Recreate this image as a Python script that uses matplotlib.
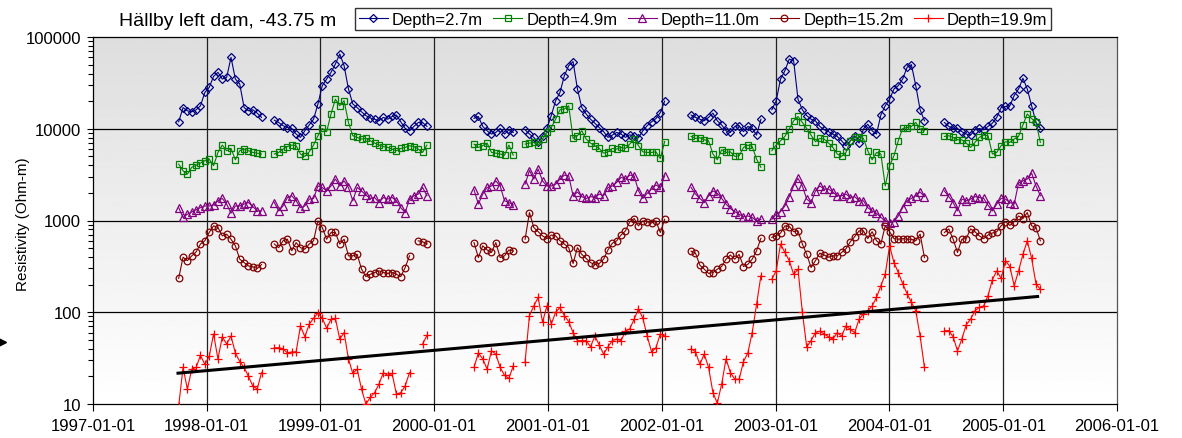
import numpy as np
import pandas as pd
import matplotlib
matplotlib.use("Agg")
import matplotlib.pyplot as plt
import matplotlib.dates as mdates
from matplotlib.lines import Line2D
from matplotlib.ticker import FixedLocator, FuncFormatter, LogLocator, NullFormatter

plt.rcParams["font.family"] = ["Liberation Sans", "DejaVu Sans"]

nan = np.nan

# measurement campaigns: first date of each run, readings every 14 days
SEG_STARTS = ["1997-10-03", "1998-08-06", "2000-05-08", "2000-10-19",
              "2002-04-05", "2002-12-20", "2004-06-26"]
STEP = "14D"

RES_2_7 = [
    [11900, 17000, 15700, 15300, 16100, 17800, 24900, 28200, 37200, 41200,
     34800, 36300, 60000, 34800, 30700, 17000, 15700, 16100, 14800, 13300],
    [12400, 11700, 10800, 10300, 10100, 8750, 8050, 9500, 11000, 12700,
     18600, 29500, 34800, 41200, 50700, 65300, 48700, 27100, 18600, 17000,
     15300, 13900, 13100, 12700, 12200, 13300, 12700, 13600, 14100, 11900,
     10100, 9500, 10600, 11700, 11700, 10600],
    [13000, 13600, 10600, 9500, 8750, 9120, 10080, 8750, 9750, 9120],
    [9750, 8750, 8050, 7100, 8390, 10080, 13900, 20200, 24900, 37900,
     48700, 53900, 27100, 17000, 14500, 12700, 11500, 10300, 9300, 8050,
     8520, 9120, 8750, 8050, 8600, 8250, 7990, 9500, 10800, 11900,
     12900, 15000, 20000],
    [14100, 13300, 12700, 12200, 13300, 14800, 12200, 11000, 9500, 9120,
     10600, 10800, 9300, 10600, 10100, 8520, 12700],
    [16100, 20200, 34800, 42900, 57500, 55200, 21000, 16100, 13900, 12700,
     12200, 10600, 9750, 9300, 8750, 8250, 7400, 6530, 7400, 8390,
     6980, 9920, 11200, 9500, 8750, 14100, 17800, 21000, 27100, 29500,
     34800, 46600, 50000, 29500, 16100, 12200],
    [11700, 10600, 10080, 10080, 9300, 8750, 8520, 9750, 10080, 9750,
     10600, 11500, 13300, 17000, 17500, 17800, 23000, 27100, 35500, 27100,
     17800, 11700, 10080],
]

RES_4_9 = [
    [4120, 3480, 3200, 3800, 4000, 4230, 4480, 4670, 3960, 5500,
     6640, 5760, 6100, 4590, 5760, 6000, 5760, 5520, 5420, 5300],
    [5300, 5520, 6000, 6400, 6640, 6530, 5300, 5000, 5600, 6640,
     8390, 10080, 9300, 14500, 21000, 17800, 20200, 11700, 8390, 8050,
     7720, 7850, 7400, 6980, 6640, 6400, 6260, 6000, 5760, 6100,
     6260, 6530, 6400, 6000, 5520, 6640],
    [6800, 6260, 6530, 6980, 5520, 5420, 5300, 5150, 6640, 5150],
    [6800, 6980, 7100, 6640, 7720, 9120, 10300, 12700, 16100, 16400,
     17800, 7850, 8390, 9500, 7720, 6980, 6530, 6100, 5420, 5600,
     6100, 6000, 6260, 6100, 6800, 7720, 6530, 5600, 5520, 5520,
     5600, 4740, 7260],
    [8250, 7850, 7990, 7580, 7400, 5300, 4590, 5900, 5520, 5600,
     5000, 5070, 6260, 6640, 6400, 4670, 3800],
    [5760, 6640, 7400, 8250, 9920, 12200, 13600, 11700, 10080, 8520,
     7220, 7850, 7720, 6980, 6260, 5300, 5000, 5520, 7400, 8050,
     8050, 7850, 5760, 4590, 5520, 5300, 2380, 3960, 5070, 7400,
     10080, 10300, 10600, 11700, 9920, 9500],
    [8250, 8390, 8050, 7580, 7580, 6980, 6260, 7100, 8050, 8520,
     8390, 5300, 5520, 6530, 7220, 7100, 7720, 8250, 11000, 14500,
     12900, 11700, 7100],
]

RES_11_0 = [
    [1380, 1080, 1170, 1240, 1310, 1380, 1440, 1440, 1480, 1640,
     1740, 1510, 1200, 1440, 1440, 1510, 1570, 1420, 1270, 1270],
    [1570, 1270, 1440, 1780, 1860, 1640, 1380, 1440, 1710, 1740,
     2380, 2290, 2100, 2380, 2830, 2380, 2700, 2290, 1640, 2290,
     2100, 1890, 1740, 1780, 1570, 1780, 1710, 1780, 1640, 1380,
     1220, 1710, 1860, 1940, 2290, 1860],
    [2160, 1510, 1940, 2290, 2380, 2700, 2380, 1640, 1570, 1480],
    [2490, 3500, 2830, 3630, 2700, 2380, 2380, 2490, 2830, 3120,
     3070, 1860, 2040, 1820, 1740, 1820, 1780, 1940, 1860, 2290,
     2380, 2600, 2950, 2830, 3120, 3070, 2100, 1740, 1980, 2200,
     2440, 2290, 3070],
    [2290, 1940, 1740, 1570, 1860, 2100, 1980, 1740, 1510, 1350,
     1250, 1170, 1100, 1120, 1080, 990, 1030],
    [1030, 1170, 1250, 1440, 1820, 2380, 2880, 2380, 1710, 1570,
     2100, 2380, 2200, 2200, 2040, 1860, 1860, 1940, 1780, 1820,
     1640, 1640, 1380, 1270, 1200, 1080, 990, 950, 970, 1120,
     1380, 1640, 1740, 1860, 2040, 1820],
    [2100, 1820, 1570, 1270, 1710, 1640, 1710, 1820, 1780, 1740,
     1470, 1270, 1510, 1740, 1710, 1570, 1510, 2560, 2700, 2830,
     3280, 2380, 1860],
]

RES_15_2 = [
    [234, 398, 365, 412, 455, 554, 601, 740, 875, 838,
     680, 710, 625, 530, 379, 348, 320, 313, 300, 331],
    [554, 506, 601, 625, 468, 574, 506, 487, 554, 601,
     990, 838, 625, 740, 740, 554, 625, 412, 412, 427,
     295, 245, 259, 271, 283, 271, 265, 271, 259, 245,
     307, 412, nan, 601, 587, 554],
    [574, 394, 530, 478, 448, 574, 394, 412, 478, 464],
    [625, 1220, 838, 755, 680, 635, 695, 680, 601, 554,
     506, 340, 506, 427, 386, 348, 331, 340, 379, 478,
     565, 601, 695, 770, 970, 1050, 875, 990, 970, 940,
     985, 740, 1030],
    [463, 441, 325, 295, 265, 271, 295, 315, 379, 420,
     379, 427, 315, 333, 379, 468, 640],
    [654, 680, 730, 875, 860, 755, 770, 554, 427, 307,
     365, 441, 420, 398, 412, 412, 448, 492, 587, 667,
     770, 770, 635, 755, 601, 554, 875, 755, 635, 625,
     635, 625, 625, 601, 710, 394],
    [740, 810, 625, 448, 625, 635, 810, 755, 680, 635,
     695, 730, 755, 875, 970, 885, 970, 1120, 1050, 1220,
     875, 838, 601],
]

RES_19_9 = [
    [9.5, 25, 14.5, 24, 25, 34, 27, 33, 58, 31,
     54, 45, 55, 36, 29, 25, 20, 15.7, 14.5, 22],
    [41, 41, 40, 36, 37, 37, 71, 54, 74, 86,
     98, 86, 67, 84, 86, 51, 60, 31, 21.5, 24,
     14.5, 10, 11.8, 13.3, 16.5, 22, 20.5, 21.5, 12.8, 13.3,
     15.7, 22, nan, nan, 45, 56],
    [25, 36, 31, 24, 38, 35, 25, 20.5, 19, 26],
    [29, 92, 117, 145, 78, 117, 74, 100, 113, 92,
     79, 60, 49, 49, 49, 42, 55, 44, 35, 42,
     49, 51, 49, 62, 66, 84, 109, 86, 55, 37,
     41, 58, 55],
    [40, 37, 27, 35, 25, 13.3, 10.2, 16.5, 31, 22,
     18.6, 18.6, 29, 36, 60, 122, 250],
    [229, 283, 554, 448, 365, 259, 295, 100, 42, 49,
     60, 62, 58, 54, 51, 60, 55, 71, 65, 60,
     84, 96, 104, 117, 145, 194, 259, 530, 348, 271,
     205, 160, 128, 104, 55, 25],
    [63, 63, 54, 38, 51, 73, 84, 104, 113, 117,
     152, 226, 283, 234, 365, 315, 194, 283, 427, 601,
     386, 204, 178],
]

LABELS = ["Depth=2.7m", "Depth=4.9m", "Depth=11.0m", "Depth=15.2m", "Depth=19.9m"]

# exponential trend through the deepest series
TREND_DATES = ["1997-09-26", "2005-04-26"]
TREND_VALUES = [21.6, 149.0]

YEAR_TICKS = [f"{y}-01-01" for y in range(1997, 2007)]

STYLES = [
    dict(color="#000080", marker="D", ms=4.3),
    dict(color="#008000", marker="s", ms=4.6),
    dict(color="#800080", marker="^", ms=5.2),
    dict(color="#800000", marker="o", ms=4.8),
    dict(color="#FF0000", marker="+", ms=6.0),
]


def seg_dates(start, n):
    return pd.date_range(start, periods=n, freq=STEP)


fig = plt.figure(figsize=(11.82, 4.39), dpi=100)
ax = fig.add_axes([93 / 1182, 1 - 405 / 439, 1024 / 1182, 367 / 439])

# grey-to-white plot area
grad = np.linspace(0.87, 1.0, 256).reshape(-1, 1)
ax.imshow(grad, cmap="gray", vmin=0, vmax=1, aspect="auto",
          extent=[0, 1, 0, 1], transform=ax.transAxes, zorder=0)

handles = []
for series, label, st in zip([RES_2_7, RES_4_9, RES_11_0, RES_15_2, RES_19_9],
                             LABELS, STYLES):
    for start, vals in zip(SEG_STARTS, series):
        d = seg_dates(start, len(vals))
        ax.plot(d, np.array(vals, dtype=float), color=st["color"], lw=0.8,
                marker=st["marker"], ms=st["ms"], mfc="none",
                mec=st["color"], mew=0.9, zorder=3)
    handles.append(Line2D([], [], color=st["color"], lw=0.8,
                          marker=st["marker"], ms=st["ms"], mfc="none",
                          mec=st["color"], mew=0.9, label=label))

ax.plot(pd.to_datetime(TREND_DATES), TREND_VALUES, color="black", lw=2.2,
        solid_capstyle="butt", zorder=5)

ax.set_yscale("log")
ax.set_ylim(10, 100000)
ax.yaxis.set_major_locator(FixedLocator([10, 100, 1000, 10000, 100000]))
ax.yaxis.set_major_formatter(FuncFormatter(lambda v, p: f"{int(round(v))}"))
ax.yaxis.set_minor_locator(LogLocator(base=10, subs=np.arange(2, 10)))
ax.yaxis.set_minor_formatter(NullFormatter())

xt = pd.to_datetime(YEAR_TICKS)
ax.set_xlim(xt[0], xt[-1])
ax.set_xticks(xt)
ax.xaxis.set_major_formatter(mdates.DateFormatter("%Y-%m-%d"))

for v in [100, 1000, 10000]:
    ax.axhline(v, color="black", lw=0.9, zorder=1)
for d in xt[1:-1]:
    ax.axvline(d, color="#222222", lw=0.9, zorder=1)

ax.tick_params(axis="y", which="major", direction="out", length=4.5,
               width=0.8, labelsize=12, pad=4)
ax.tick_params(axis="y", which="minor", direction="out", length=3.5, width=0.8)
ax.tick_params(axis="x", which="major", direction="out", length=5,
               width=0.8, labelsize=12, pad=5)
for s in ax.spines.values():
    s.set_color("black")
    s.set_linewidth(0.9)
ax.spines["right"].set_color("#555555")

fig.text(23 / 1182, 1 - 224 / 439, "Resistivity (Ohm-m)", rotation=90,
         ha="center", va="center", fontsize=11)
fig.text(119 / 1182, 1 - 26 / 439, "Hällby left dam, -43.75 m",
         ha="left", va="baseline", fontsize=14)

leg = fig.legend(handles=handles, loc="center", ncol=5,
                 bbox_to_anchor=(703 / 1182, 1 - 20 / 439),
                 fontsize=12, frameon=True, fancybox=False,
                 edgecolor="#333333", framealpha=1.0, handlelength=1.75,
                 handletextpad=0.25, columnspacing=0.6, borderpad=0.2)
leg.get_frame().set_linewidth(1.0)

# small pointer at the left margin
fig.add_artist(Line2D([0.002], [1 - 343 / 439], marker=">", ms=6,
                      color="black", transform=fig.transFigure))

fig.savefig("out.png", dpi=100)
